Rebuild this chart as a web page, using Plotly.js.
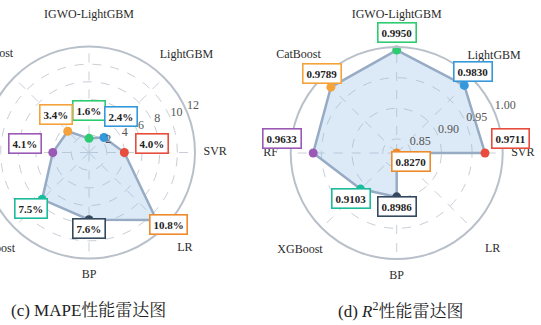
<!DOCTYPE html>
<html><head><meta charset="utf-8">
<script src="https://cdn.plot.ly/plotly-3.0.1.min.js"></script>
<style>
html,body{margin:0;padding:0;overflow:hidden;background:#fff;width:541px;height:325px}
#chart{position:absolute;left:-60px;top:0;width:620px;height:325px}
</style></head>
<body><div id="chart"></div>
<script>
// ---- data ----
const categories = ['IGWO-LightGBM','LightGBM','SVR','LR','BP','XGBoost','RF','CatBoost'];
const mapeValues = [1.6, 2.4, 4.0, 10.8, 7.6, 7.5, 4.1, 3.4];
const mapeLabels = ['1.6%','2.4%','4.0%','10.8%','7.6%','7.5%','4.1%','3.4%'];
const r2Values = [0.9950, 0.9830, 0.9711, 0.8270, 0.8986, 0.9103, 0.9633, 0.9789];
const r2Labels = ['0.9950','0.9830','0.9711','0.8270','0.8986','0.9103','0.9633','0.9789'];
const mapeTicks = [2, 4, 6, 8, 10, 12];
const mapeTickText = ['2','4','6','8','10','12'];
const r2Ticks = [0.85, 0.90, 0.95, 1.00];
const r2TickText = ['0.85','0.90','0.95','1.00'];
const captionC = '(c) MAPE性能雷达图';
const captionD = '(d) <i>R</i><sup>2</sup>性能雷达图';

// ---- style ----
const pointColors = ['#2ecc71','#3498db','#e74c3c','#ee8a2a','#34495e','#1abc9c','#9b59b6','#f5a23a'];
const mapeShift = [[0,28],[17,21],[28,9],[12,-5],[0,-9],[-11,-9],[-28,9],[-12,17]];
const r2Shift = [[0,18],[9,14],[26,14],[14,-9],[0,-10],[-10,-9],[-31,14],[-9,14]];
const labelFactor = [1.30, 1.30, 1.19, 1.28, 1.16, 1.29, 1.19, 1.31];
const tickAngle = 22.5;
const SERIF = '"Liberation Serif","Times New Roman",serif';
const CJK = '"Liberation Serif","Noto Serif CJK SC","Noto Sans CJK SC",serif';
const OFF = 60;                 // div is shifted left so the left chart is cut at the page edge
const W = 620, H = 325;
const panels = [
  {key:'polar',  lkey:'polar3', tkey:'polar5', cx:89 + OFF,    cy:152.5, R:106, range:[0, 12],      vals:mapeValues, labels:mapeLabels, shift:mapeShift, ticks:mapeTicks, ticktext:mapeTickText},
  {key:'polar2', lkey:'polar4', tkey:'polar6', cx:396.7 + OFF, cy:153,   R:106, range:[0.827, 1.0], vals:r2Values,   labels:r2Labels,   shift:r2Shift,   ticks:r2Ticks,   ticktext:r2TickText}
];
const labelBox = 1.4;

const traces = [];
const annotations = [];
const layout = {
  width: W, height: H,
  margin: {l:0, r:0, t:0, b:0},
  paper_bgcolor: '#fff',
  showlegend: false,
  font: {family: SERIF, color: '#333'},
  annotations: annotations
};

function dom(cx, cy, R) {
  return {x:[(cx - R)/W, (cx + R)/W], y:[(H - cy - R)/H, (H - cy + R)/H]};
}
const hiddenRadial = (range) => ({range:range, autorange:false, visible:false, showgrid:false,
  showline:false, showticklabels:false, ticks:''});

panels.forEach(p => {
  const rClose = p.vals.concat([p.vals[0]]);
  const tClose = categories.concat([categories[0]]);
  const span = p.range[1] - p.range[0];

  traces.push({type:'scatterpolar', subplot:p.key, r:rClose, theta:tClose, mode:'lines',
    fill:'toself', fillcolor:'rgba(140,185,230,0.30)', line:{color:'#97abc4', width:2.5},
    hoverinfo:'skip'});
  traces.push({type:'scatterpolar', subplot:p.key, r:p.vals, theta:categories, mode:'markers',
    marker:{color:pointColors, size:9}, hoverinfo:'skip'});
  // category names, on a wider invisible polar frame sharing the same centre
  traces.push({type:'scatterpolar', subplot:p.lkey, r:labelFactor,
    theta:categories, mode:'text', text:categories, textposition:'middle center',
    textfont:{family:SERIF, size:12, color:'#2b2b2b'}, cliponaxis:false, hoverinfo:'skip'});
  // radial tick labels, on an invisible frame with the same radial scale
  traces.push({type:'scatterpolar', subplot:p.tkey, r:p.ticks, theta:p.ticks.map(() => tickAngle),
    mode:'text', text:p.ticktext, textposition:'top right',
    textfont:{family:SERIF, size:12, color:'#555'}, cliponaxis:false, hoverinfo:'skip'});

  layout[p.key] = {
    domain: dom(p.cx, p.cy, p.R),
    bgcolor: 'rgba(0,0,0,0)',
    angularaxis: {type:'category', categoryarray:categories, direction:'clockwise', rotation:90,
      showticklabels:false, ticks:'', showgrid:true, gridcolor:'#c9ced6', griddash:'dash', gridwidth:1,
      showline:true, linecolor:'#b9c0ca', linewidth:2},
    radialaxis: {range:p.range, autorange:false, angle:tickAngle, tickvals:p.ticks,
      showticklabels:false, showline:false, ticks:'', showgrid:true, gridcolor:'#c9ced6',
      griddash:'dash', gridwidth:1}
  };
  layout[p.lkey] = {
    domain: dom(p.cx, p.cy, p.R*labelBox),
    bgcolor: 'rgba(0,0,0,0)',
    angularaxis: {type:'category', categoryarray:categories, direction:'clockwise', rotation:90,
      visible:false, showgrid:false, showline:false, showticklabels:false, ticks:''},
    radialaxis: hiddenRadial([0, labelBox])
  };
  layout[p.tkey] = {
    domain: dom(p.cx, p.cy, p.R*labelBox),
    bgcolor: 'rgba(0,0,0,0)',
    angularaxis: {type:'linear', thetaunit:'degrees', direction:'counterclockwise', rotation:0,
      visible:false, showgrid:false, showline:false, showticklabels:false, ticks:''},
    radialaxis: hiddenRadial([p.range[0], p.range[0] + span*labelBox])
  };

  // boxed value labels, anchored at each point's polar position
  p.vals.forEach((v, i) => {
    const ang = (90 - 45*i) * Math.PI/180;
    const rpx = (v - p.range[0]) / span * p.R;
    annotations.push({
      xref:'paper', yref:'paper',
      x:(p.cx + rpx*Math.cos(ang))/W, y:(H - p.cy + rpx*Math.sin(ang))/H,
      xshift:p.shift[i][0], yshift:p.shift[i][1],
      xanchor:'center', yanchor:'middle', showarrow:false,
      text:'<b>' + p.labels[i] + '</b>',
      font:{family:SERIF, size:11, color:'#222'},
      bgcolor:'#fff', bordercolor:pointColors[i], borderwidth:1.6, borderpad:3
    });
  });
});

annotations.push({xref:'paper', yref:'paper', x:(88 + OFF)/W, y:15/H, xanchor:'center', yanchor:'middle',
  showarrow:false, text:captionC, font:{family:CJK, size:17, color:'#222'}});
annotations.push({xref:'paper', yref:'paper', x:(400 + OFF)/W, y:15/H, xanchor:'center', yanchor:'middle',
  showarrow:false, text:captionD, font:{family:CJK, size:17, color:'#222'}});

Plotly.newPlot('chart', traces, layout, {staticPlot:true, displayModeBar:false});
</script>
</body></html>
